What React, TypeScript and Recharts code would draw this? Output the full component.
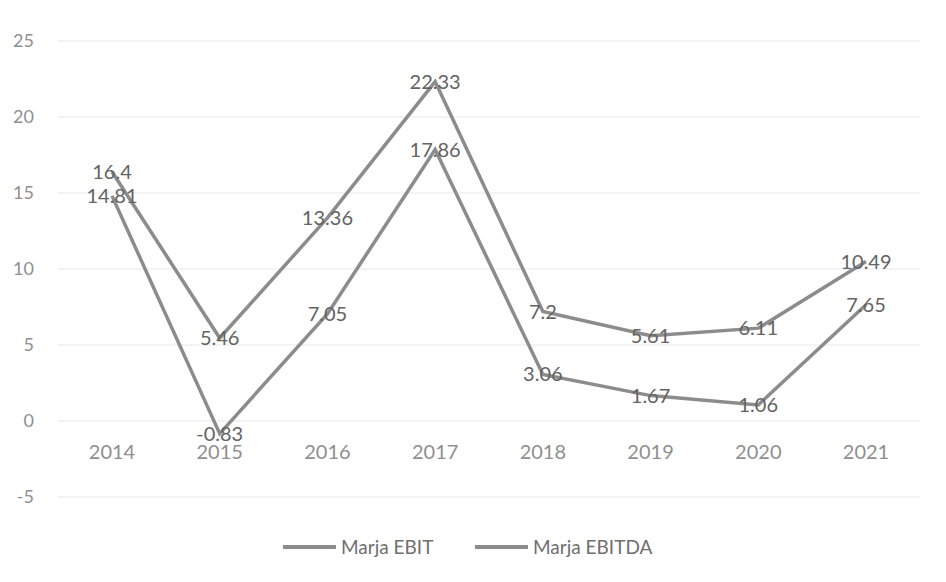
import React from "react";
import { LineChart, Line, XAxis, YAxis, CartesianGrid, Legend, LabelList } from "recharts";

const years = ["2014", "2015", "2016", "2017", "2018", "2019", "2020", "2021"];
const ebit = [14.81, -0.83, 7.05, 17.86, 3.06, 1.67, 1.06, 7.65];
const ebitda = [16.4, 5.46, 13.36, 22.33, 7.2, 5.61, 6.11, 10.49];
const yTicks = [-5, 0, 5, 10, 15, 20, 25];

const data = years.map((y, i) => ({ year: y, ebit: ebit[i], ebitda: ebitda[i] }));

const FONT = "Lato, 'Open Sans', sans-serif";
const LINE = "#8c8c8c";

const XTick = (props: any) => {
  const { x, y, payload } = props;
  return (
    <text x={x} y={y} dy={-38} textAnchor="middle" fontFamily={FONT} fontSize={20} fill="#8f8f8f">
      {payload.value}
    </text>
  );
};

const renderLabel = (props: any) => {
  const { x, y, value } = props;
  return (
    <text x={x} y={y + 7} textAnchor="middle" fontFamily={FONT} fontSize={20} fill="#636363">
      {value}
    </text>
  );
};

const LegendContent = () => {
  const items = [
    { name: "Marja EBIT", x: 283 },
    { name: "Marja EBITDA", x: 475 },
  ];
  return (
    <svg width={946} height={30} style={{ display: "block" }}>
      {items.map((it) => (
        <g key={it.name}>
          <line x1={it.x} x2={it.x + 53} y1={12} y2={12} stroke={LINE} strokeWidth={4} />
          <text x={it.x + 58} y={19} fontFamily={FONT} fontSize={19} fill="#6f6f6f">
            {it.name}
          </text>
        </g>
      ))}
    </svg>
  );
};

export default function App() {
  return (
    <div style={{ position: "absolute", left: 0, top: 0, width: 946, height: 582, background: "#fff" }}>
      <LineChart
        width={946}
        height={582}
        data={data}
        margin={{ top: 41, right: 26, left: 0, bottom: 54 }}
      >
        <CartesianGrid vertical={false} stroke="#e8e8e8" strokeWidth={1} />
        <XAxis
          dataKey="year"
          axisLine={false}
          tickLine={false}
          tick={<XTick />}
          tickSize={0}
          tickMargin={0}
          padding={{ left: 54, right: 54 }}
          height={1}
          interval={0}
        />
        <YAxis
          width={58}
          domain={[-5, 25]}
          ticks={yTicks}
          axisLine={false}
          tickLine={false}
          tick={{ fontFamily: FONT, fontSize: 18, fill: "#8f8f8f" }}
          tickMargin={18}
          interval={0}
        />
        <Legend
          verticalAlign="bottom"
          content={<LegendContent />}
          wrapperStyle={{ position: "absolute", top: 535, left: 0, width: 946, height: 30 }}
        />
        <Line
          dataKey="ebitda"
          name="Marja EBITDA"
          stroke={LINE}
          strokeWidth={3.5}
          dot={false}
          isAnimationActive={false}
        >
          <LabelList dataKey="ebitda" content={renderLabel} />
        </Line>
        <Line
          dataKey="ebit"
          name="Marja EBIT"
          stroke={LINE}
          strokeWidth={3.5}
          dot={false}
          isAnimationActive={false}
        >
          <LabelList dataKey="ebit" content={renderLabel} />
        </Line>
      </LineChart>
    </div>
  );
}
